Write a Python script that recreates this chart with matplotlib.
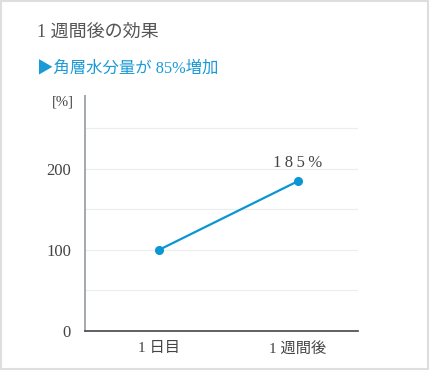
import matplotlib.pyplot as plt
from matplotlib.patches import Rectangle

# data
categories = ["1 日目", "1 週間後"]
values = [100, 185]
yticks = [0, 100, 200]
grid_lines = [50, 100, 150, 200, 250]
title = "1 週間後の効果"
subtitle = "▶角層水分量が 85%増加"
point_label = "1\u20098\u20095\u2009%"

FONTS = ["Liberation Serif", "Noto Sans CJK JP", "DejaVu Sans"]
plt.rcParams["font.family"] = FONTS

BLUE = "#0a96d2"
TEXT = "#444444"

fig = plt.figure(figsize=(4.3, 3.7), dpi=100)
# outer frame
fig.patches.append(Rectangle((0.002, 0.004), 0.993, 0.993, transform=fig.transFigure,
                             fill=False, edgecolor="#dedede", linewidth=1.5))

# axes in pixel coords: left 85, right 358, top 96, bottom 331
W, H = 430, 370
ax = fig.add_axes([85 / W, 1 - 331 / H, (358 - 85) / W, (331 - 96) / H])

x = list(range(len(categories)))
for g in grid_lines:
    ax.axhline(g, color="#ececec", linewidth=0.8, zorder=0)

ax.plot(x, values, color=BLUE, linewidth=1.6, marker="o", markersize=5.5, zorder=3)
ax.text(x[-1], values[-1] + 13, point_label, ha="center", va="bottom",
        fontsize=12, color=TEXT)

ax.set_xlim(-0.53, 1.43)
ax.set_ylim(0, 290)
ax.set_yticks(yticks)
ax.set_yticklabels([str(v) for v in yticks], fontsize=12, color=TEXT)
ax.set_xticks(x)
ax.set_xticklabels(categories, fontsize=11, color=TEXT)
ax.tick_params(axis="y", length=0, pad=10)
ax.tick_params(axis="x", length=0, pad=8)

for s in ["top", "right"]:
    ax.spines[s].set_visible(False)
ax.spines["left"].set_color("#a3a7b0")
ax.spines["left"].set_linewidth(1.4)
ax.spines["bottom"].set_color("#444444")
ax.spines["bottom"].set_linewidth(1.2)

ax.text(-0.04, 1.0, "[%]", transform=ax.transAxes, ha="right", va="top",
        fontsize=10.5, color=TEXT)

fig.text(37 / W, 1 - 37 / H, title, fontsize=13, color="#555555", ha="left", va="baseline")
fig.text(37 / W, 1 - 72 / H, subtitle, fontsize=11.8, color="#1a9ad6", ha="left", va="baseline")

fig.savefig("out.png", dpi=100)
